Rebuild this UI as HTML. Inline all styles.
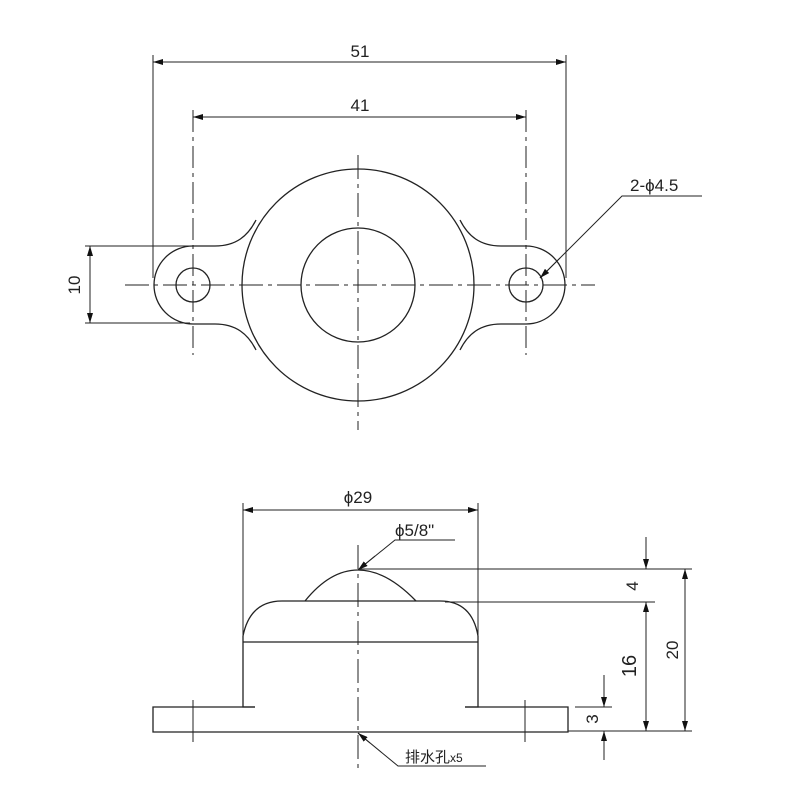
<!DOCTYPE html>
<html><head><meta charset="utf-8"><style>html,body{margin:0;padding:0;background:#fff}svg{display:block}</style></head>
<body>
<svg width="800" height="800" viewBox="0 0 800 800" xmlns="http://www.w3.org/2000/svg" font-family="Liberation Sans, Noto Sans CJK SC, sans-serif">
<defs>
<marker id="a" viewBox="0 0 10 6" refX="10" refY="3" markerWidth="10" markerHeight="6" markerUnits="userSpaceOnUse" orient="auto-start-reverse"><path d="M0,0L10,3L0,6z" fill="#111"/></marker>
</defs>
<g stroke="#222" fill="none" stroke-width="1">
<line x1="153" y1="55" x2="153" y2="278"/>
<line x1="566" y1="55" x2="566" y2="278"/>
<line x1="153" y1="62" x2="566" y2="62" marker-start="url(#a)" marker-end="url(#a)"/>
<line x1="193" y1="110" x2="193" y2="355" stroke-dasharray="22,5,4,5"/>
<line x1="526" y1="110" x2="526" y2="355" stroke-dasharray="22,5,4,5"/>
<line x1="193" y1="117" x2="526" y2="117" marker-start="url(#a)" marker-end="url(#a)"/>
<line x1="85" y1="246" x2="190" y2="246"/>
<line x1="85" y1="323" x2="190" y2="323"/>
<line x1="90" y1="246" x2="90" y2="323" marker-start="url(#a)" marker-end="url(#a)"/>
<line x1="125" y1="285" x2="595" y2="285" stroke-dasharray="24,5,4,5"/>
<line x1="358" y1="155" x2="358" y2="430" stroke-dasharray="24,5,4,5"/>
<path d="M256,220 C248,236 236,246 215,246 L193,246 A39,39 0 0 0 193,324 L215,324 C236,324 248,334 256,350" stroke-width="1.3"/>
<path d="M460,220 C468,236 480,246 501,246 L526,246 A39,39 0 0 1 526,324 L501,324 C480,324 468,334 460,350" stroke-width="1.3"/>
<circle cx="358" cy="285" r="116" stroke-width="1.3"/>
<circle cx="358" cy="285" r="57" stroke-width="1.3"/>
<circle cx="193" cy="285" r="17" stroke-width="1.3"/>
<circle cx="526" cy="285" r="17" stroke-width="1.3"/>
<polyline points="702,196 622,196 540,278" />
<line x1="560" y1="258" x2="540" y2="278" marker-end="url(#a)"/>

<line x1="243" y1="503" x2="243" y2="645"/>
<line x1="478" y1="503" x2="478" y2="645"/>
<line x1="243" y1="510" x2="478" y2="510" marker-start="url(#a)" marker-end="url(#a)"/>
<polyline points="455,540 395,540 358,570"/>
<line x1="375" y1="556" x2="358" y2="570" marker-end="url(#a)"/>
<line x1="358" y1="545" x2="358" y2="770" stroke-dasharray="24,5,4,5"/>
<path d="M305,601 Q330,570 358,570 Q386,570 416,601" stroke-width="1.3"/>
<path d="M243,636 Q250,601 282,601 L440,601 Q472,601 478,636" stroke-width="1.3"/>
<line x1="243" y1="642" x2="478" y2="642" stroke-width="1.3"/>
<polyline points="243,636 243,707 255,707" stroke-width="1.3"/>
<polyline points="478,636 478,707 465,707" stroke-width="1.3"/>
<polyline points="255,707 153,707 153,732 568,732 568,707 465,707" stroke-width="1.3"/>
<line x1="193" y1="700" x2="193" y2="742"/>
<line x1="525" y1="700" x2="525" y2="742"/>
<polyline points="358,733 398,766 486,766"/>
<line x1="370" y1="743" x2="358" y2="733" marker-end="url(#a)"/>
<line x1="360" y1="569" x2="692" y2="569"/>
<line x1="445" y1="602" x2="655" y2="602"/>
<line x1="568" y1="731" x2="692" y2="731"/>
<line x1="575" y1="707" x2="612" y2="707"/>
<line x1="646" y1="537" x2="646" y2="569" marker-end="url(#a)"/>
<line x1="646" y1="602" x2="646" y2="731" marker-start="url(#a)" marker-end="url(#a)"/>
<line x1="685" y1="569" x2="685" y2="731" marker-start="url(#a)" marker-end="url(#a)"/>
<line x1="604" y1="675" x2="604" y2="707" marker-end="url(#a)"/>
<line x1="604" y1="760" x2="604" y2="731" marker-end="url(#a)"/>
</g>
<g fill="#222" font-size="17">
<text x="360" y="57" text-anchor="middle">51</text>
<text x="360" y="111" text-anchor="middle">41</text>
<text x="0" y="0" text-anchor="middle" transform="translate(80,285) rotate(-90)">10</text>
<text x="630" y="191">2-ϕ4.5</text>
<text x="358" y="503" text-anchor="middle">ϕ29</text>
<text x="395" y="536">ϕ5/8"</text>
<text x="405" y="762" font-size="15">排水孔<tspan font-size="12">x5</tspan></text>
<text x="0" y="0" text-anchor="middle" transform="translate(638,586) rotate(-90)">4</text>
<text x="0" y="0" text-anchor="middle" transform="translate(636,666) rotate(-90)" font-size="20">16</text>
<text x="0" y="0" text-anchor="middle" transform="translate(678,650) rotate(-90)">20</text>
<text x="0" y="0" text-anchor="middle" transform="translate(598,719) rotate(-90)">3</text>
</g>
</svg>
</body></html>
